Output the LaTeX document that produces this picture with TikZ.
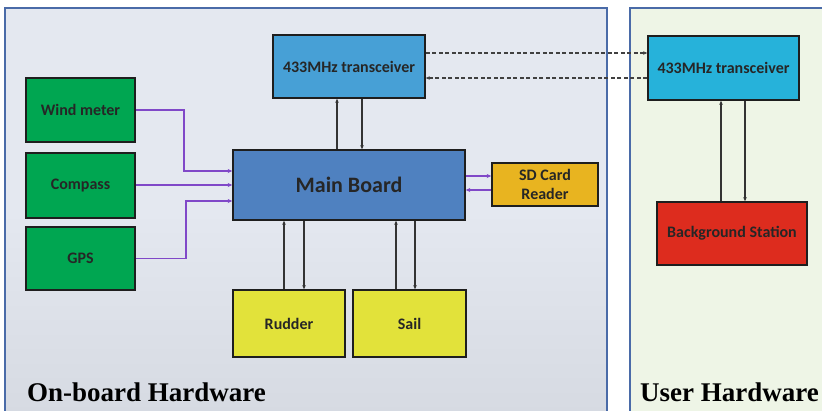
\documentclass[tikz,border=0pt]{standalone}
\usepackage{fontspec}
\setmainfont{Liberation Serif}
\newfontfamily\boxfont{Carlito}
\usetikzlibrary{arrows.meta,calc}
\definecolor{panelL}{HTML}{E4E8F0}
\definecolor{panelLb}{HTML}{D6DAE2}
\definecolor{panelR}{HTML}{EEF5E6}
\definecolor{panelEdge}{HTML}{4A6BA8}
\definecolor{txA}{HTML}{47A0D6}
\definecolor{txB}{HTML}{26B2DA}
\definecolor{sensor}{HTML}{00A651}
\definecolor{mainc}{HTML}{4F81C0}
\definecolor{sdc}{HTML}{E8B420}
\definecolor{act}{HTML}{E2E23A}
\definecolor{bgst}{HTML}{DD2C1E}
\definecolor{purp}{HTML}{8048C8}
\definecolor{edge}{HTML}{1E1E1E}
\tikzset{
  blk/.style={draw=edge, line width=1.6pt, inner sep=2pt, align=center,
    font=\boxfont\bfseries\fontsize{16}{17}\selectfont, text=black!85},
  arr/.style={-{Stealth[length=4pt,width=3.5pt]}, line width=1.3pt, draw=black!80},
  parr/.style={-{Stealth[length=4.5pt,width=4pt]}, line width=1.6pt, draw=purp},
  darr/.style={-{Stealth[length=4pt,width=3.5pt]}, line width=1.4pt, draw=black!75, dash pattern=on 4pt off 2.5pt},
  plabel/.style={anchor=base west, font=\bfseries\fontsize{27}{30}\selectfont, text=black, inner sep=0pt}
}
\begin{document}
\begin{tikzpicture}[x=1pt,y=-1pt]
\useasboundingbox (0,0) rectangle (822,410);
\fill[white] (0,0) rectangle (822,410);
\begin{scope}
\clip (0,0) rectangle (822,410);
\shade[top color=panelL, bottom color=panelLb, middle color=panelL] (5,8) rectangle (607,414);
\fill[panelR] (630,8) rectangle (824,414);
\draw[panelEdge, line width=1.5pt] (5,414) -- (5,8) -- (607,8) -- (607,414);
\draw[panelEdge, line width=1.5pt] (630,414) -- (630,8) -- (824,8);
\end{scope}

\node[blk, fill=txA, minimum width=152pt, minimum height=63pt] (tx1) at (349,66.5) {433MHz transceiver};
\node[blk, fill=sensor, minimum width=109pt, minimum height=64pt] (wind) at (80.5,110) {Wind meter};
\node[blk, fill=sensor, minimum width=109pt, minimum height=65pt] (compass) at (80.5,185.5) {Compass};
\node[blk, fill=sensor, minimum width=109pt, minimum height=63pt] (gps) at (80.5,258.5) {GPS};
\node[blk, fill=mainc, minimum width=232pt, minimum height=70pt, font=\boxfont\bfseries\fontsize{22}{24}\selectfont] (main) at (349,185) {Main Board};
\node[blk, fill=sdc, minimum width=106pt, minimum height=43pt, font=\boxfont\bfseries\fontsize{16}{19}\selectfont] (sd) at (545,184.5) {SD Card\\Reader};
\node[blk, fill=act, minimum width=112pt, minimum height=67pt] (rudder) at (289,323.5) {Rudder};
\node[blk, fill=act, minimum width=113pt, minimum height=67pt] (sail) at (409.5,323.5) {Sail};
\node[blk, fill=txB, minimum width=151pt, minimum height=64pt] (tx2) at (723.5,68) {433MHz transceiver};
\node[blk, fill=bgst, minimum width=150pt, minimum height=63pt] (bg) at (732,233.5) {Background Station};

% sensors to main board
\draw[parr] (wind.east) -- ++(48,0) |- ([yshift=14pt]main.west);
\draw[parr] (compass.east |- main.west) -- (main.west);
\draw[parr] (gps.east) -- ++(50,0) |- ([yshift=-16pt]main.west);

% SD card
\draw[parr] ([yshift=9pt]main.east) -- ([yshift=9pt]main.east -| sd.west);
\draw[parr] ([yshift=-5pt]main.east -| sd.west) -- ([yshift=-5pt]main.east);

% main <-> transceiver
\draw[arr] ([xshift=-12pt]main.north) -- ([xshift=-12pt]main.north |- tx1.south);
\draw[arr] ([xshift=13pt]tx1.south) -- ([xshift=13pt]tx1.south |- main.north);

% main <-> rudder, sail
\draw[arr] ([xshift=-5pt]rudder.north) -- ([xshift=-5pt]rudder.north |- main.south);
\draw[arr] ([xshift=15pt]rudder.north |- main.south) -- ([xshift=15pt]rudder.north);
\draw[arr] ([xshift=-13.5pt]sail.north) -- ([xshift=-13.5pt]sail.north |- main.south);
\draw[arr] ([xshift=5.5pt]sail.north |- main.south) -- ([xshift=5.5pt]sail.north);

% wireless link
\draw[darr] ([yshift=13.5pt]tx1.east) -- ([yshift=13.5pt]tx1.east -| tx2.west);
\draw[darr] ([yshift=-11.5pt]tx1.east -| tx2.west) -- ([yshift=-11.5pt]tx1.east);

% user side
\draw[arr] ([xshift=-11pt]bg.north) -- ([xshift=-11pt]bg.north |- tx2.south);
\draw[arr] ([xshift=13pt]bg.north |- tx2.south) -- ([xshift=13pt]bg.north);

\node[plabel] (lblL) at (27,401) {On-board Hardware};
\node[plabel] (lblR) at (640,401) {User Hardware};
\end{tikzpicture}
\end{document}
